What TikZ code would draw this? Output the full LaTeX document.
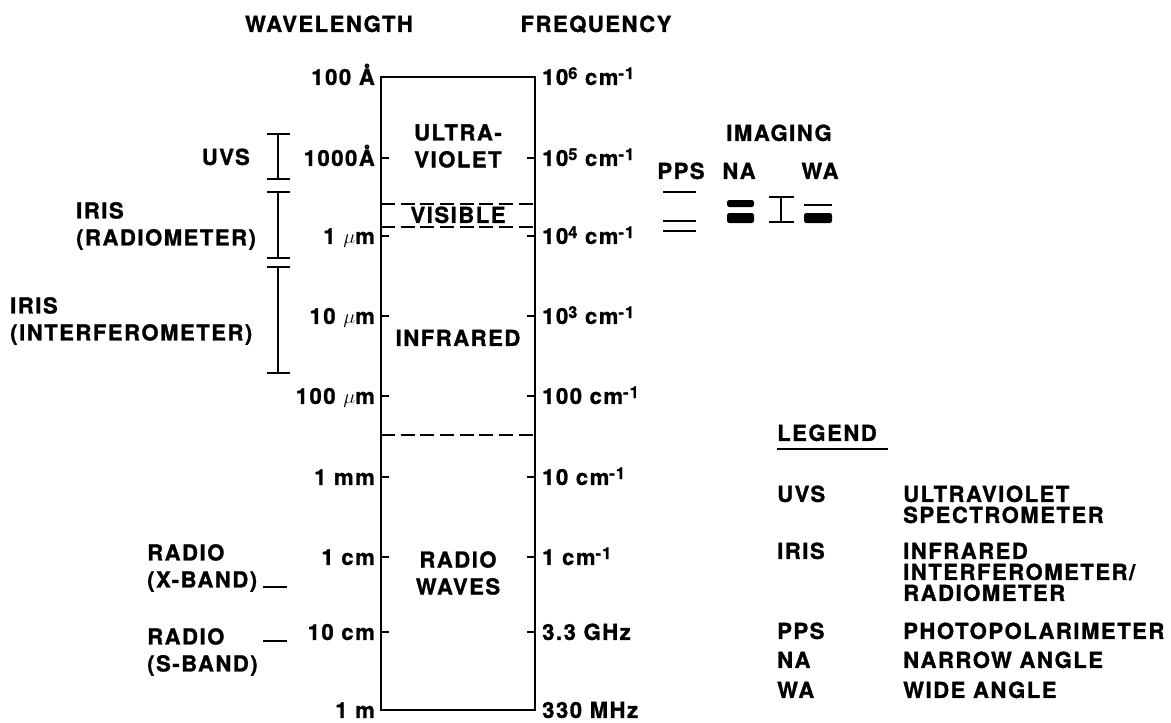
\documentclass[tikz,border=0pt]{standalone}
\usepackage{fontspec}
\setmainfont{TeX Gyre Heros}[LetterSpace=7, BoldFeatures={FakeBold=1.2}]
\usetikzlibrary{positioning}
\newcommand\expo[1]{\raisebox{5pt}{\fontsize{14}{14}\selectfont #1}}

\begin{document}
\begin{tikzpicture}[
  x=0.03cm, y=-0.03cm,
  lbl/.style={font=\bfseries\fontsize{18.8}{22}\selectfont, inner sep=0pt, text height=13.5pt, text depth=0pt},
  multi/.style={font=\bfseries\fontsize{18.8}{23}\selectfont, inner sep=0pt},
  frame/.style={line width=2.4pt},
  tick/.style={line width=2.4pt},
  band/.style={line width=1.8pt, dash pattern=on 0.42cm off 0.17cm},
  ibar/.style={line width=1.9pt},
  markln/.style={line width=1.9pt},
  thickbar/.style={fill=black, rounded corners=2pt}
]
\useasboundingbox (0,0) rectangle (1171,722);

% column headings
\node[lbl] (wlhead) at (329,24) {WAVELENGTH};
\node[lbl] (frhead) at (596,24) {FREQUENCY};

% the spectrum column
\coordinate (top) at (381,77);
\coordinate (bot) at (535,710);
\draw[frame] (top) rectangle (bot);
\draw[band] (381,204) -- (535,204);
\draw[band] (381,227) -- (535,227);
\draw[band] (381,435) -- (535,435);

\foreach \y/\wl/\fr [count=\i] in {
  77/{100 Å}/{10\expo{6} cm\expo{-1}},
  158/{1000Å}/{10\expo{5} cm\expo{-1}},
  236/{1 $\mu$m}/{10\expo{4} cm\expo{-1}},
  316/{10 $\mu$m}/{10\expo{3} cm\expo{-1}},
  396/{100 $\mu$m}/{100 cm\expo{-1}},
  477/{1 mm}/{10 cm\expo{-1}},
  557/{1 cm}/{1 cm\expo{-1}},
  632/{10 cm}/{3.3 GHz},
  710/{1 m}/{330 MHz}} {
  \node[lbl, anchor=east] (wl\i) at (375,\y) {\wl};
  \node[lbl, anchor=west] (fr\i) at (542,\y) {\fr};
}
\foreach \y in {158,236,316,396,477,557,632} {
  \draw[tick] (381,\y) -- ++(8,0);
  \draw[tick] (535,\y) -- ++(-8,0);
}

\node[multi, align=center] (uv) at (458,146) {ULTRA-\\VIOLET};
\node[lbl] (vis) at (458,215) {VISIBLE};
\node[lbl] (ir) at (458,338) {INFRARED};
\node[multi, align=center] (radio) at (458,573) {RADIO\\WAVES};

% instrument ranges
\node[lbl, anchor=east] (uvs) at (250,157) {UVS};
\draw[ibar] (278,134) -- (278,179) (267,134) -- (290,134) (267,179) -- (290,179);
\node[multi, align=left, anchor=west] (irisr) at (76,226) {IRIS\\(RADIOMETER)};
\draw[ibar] (278,192) -- (278,258) (267,192) -- (290,192) (267,258) -- (290,258);
\node[multi, align=left, anchor=west] (irisi) at (10,321) {IRIS\\(INTERFEROMETER)};
\draw[ibar] (278,267) -- (278,373) (267,267) -- (290,267) (267,373) -- (290,373);
\node[multi, align=left, anchor=west] (xband) at (147,568) {RADIO\\(X-BAND)};
\draw[markln] (263,587) -- (287,587);
\node[multi, align=left, anchor=west] (sband) at (147,652) {RADIO\\(S-BAND)};
\draw[markln] (263,641) -- (287,641);

% imaging and photopolarimeter
\node[lbl] (imaging) at (779,133) {IMAGING};
\node[lbl] (pps) at (681,171) {PPS};
\node[lbl] (na) at (739,171) {NA};
\node[lbl] (wa) at (820,171) {WA};
\draw[markln] (663,192) -- (696,192);
\draw[markln] (663,221) -- (696,221);
\draw[markln] (663,231) -- (696,231);
\fill[thickbar] (727,200) rectangle (754,207);
\fill[thickbar] (727,213) rectangle (754,223);
\draw[ibar] (781,197) -- (781,222) (769,197) -- (794,197) (769,222) -- (794,222);
\draw[markln] (804,205) -- (832,205);
\fill[thickbar] (804,213) rectangle (832,223);

% legend
\node[lbl, anchor=west] (leghead) at (777,433) {LEGEND};
\draw[markln] (777,449) -- (888,449);
\foreach \y/\ab/\txt [count=\i] in {
  494/UVS/{ULTRAVIOLET},
  551/IRIS/{INFRARED},
  631/PPS/{PHOTOPOLARIMETER},
  660/NA/{NARROW ANGLE},
  690/WA/{WIDE ANGLE}} {
  \node[lbl, anchor=west] (ab\i) at (777,\y) {\ab};
  \node[lbl, anchor=west] (txt\i) at (903,\y) {\txt};
}
\node[lbl, anchor=west] (txt1b) at (903,515) {SPECTROMETER};
\node[lbl, anchor=west] (txt2b) at (903,572) {INTERFEROMETER/};
\node[lbl, anchor=west] (txt2c) at (903,593) {RADIOMETER};
\end{tikzpicture}
\end{document}
